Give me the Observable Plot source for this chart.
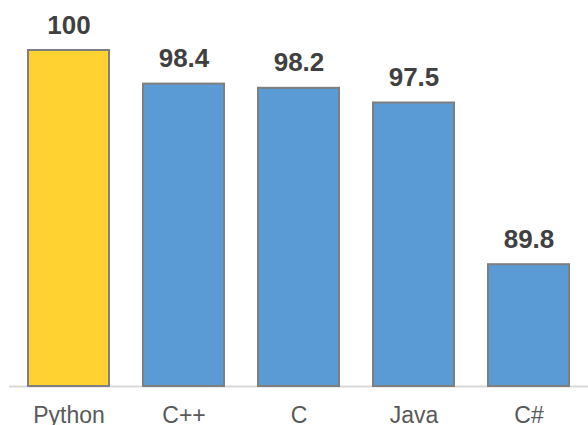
<!DOCTYPE html>
<html>
<head>
<meta charset="utf-8">
<script src="https://cdn.jsdelivr.net/npm/d3@7"></script>
<script src="https://cdn.jsdelivr.net/npm/@observablehq/plot@0.6"></script>
<style>
  html, body { margin: 0; padding: 0; background: #fff; }
  #chart svg { display: block; overflow: visible; }
</style>
</head>
<body>
<div id="chart"></div>
<script>
const languages = ["Python", "C++", "C", "Java", "C#"];
const scores = [100, 98.4, 98.2, 97.5, 89.8];
const highlight = ["Python"];

const data = languages.map((lang, i) => ({lang, score: scores[i]}));

const chart = Plot.plot({
  width: 588,
  height: 425,
  marginTop: 50,
  marginBottom: 39,
  marginLeft: 9,
  marginRight: 0,
  style: {fontFamily: "Liberation Sans, Arial, sans-serif", background: "#fff"},
  x: {domain: languages, padding: 0, label: null},
  y: {domain: [84, 100], axis: null},
  marks: [
    Plot.ruleY([84], {stroke: "#d9d9d9", strokeWidth: 2}),
    Plot.barY(data, {
      x: "lang", y1: 84, y2: "score",
      fill: d => highlight.includes(d.lang) ? "#FFD231" : "#5B9BD5",
      stroke: "#7f7f7f", strokeWidth: 2,
      insetLeft: 17, insetRight: 17
    }),
    Plot.text(data, {
      x: "lang", y: "score", text: d => String(d.score),
      lineAnchor: "bottom", dy: -17,
      fontSize: 26, fontWeight: "bold", fill: "#404040"
    }),
    Plot.axisX({
      tickSize: 0, tickPadding: 20, fontSize: 23, color: "#595959", label: null
    })
  ]
});
document.getElementById("chart").appendChild(chart);
</script>
</body>
</html>
